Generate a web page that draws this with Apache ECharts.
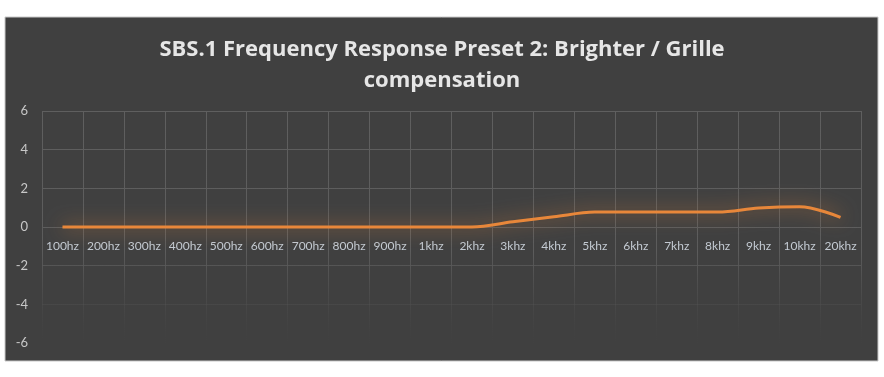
<!DOCTYPE html>
<html>
<head>
<meta charset="utf-8">
<script src="https://cdn.jsdelivr.net/npm/echarts@6/dist/echarts.min.js"></script>
<style>
  html, body { margin: 0; padding: 0; background: #fff; }
  #chart { width: 884px; height: 377px; }
</style>
</head>
<body>
<div id="chart"></div>
<script>
const categories = ['100hz', '200hz', '300hz', '400hz', '500hz', '600hz', '700hz', '800hz', '900hz', '1khz',
  '2khz', '3khz', '4khz', '5khz', '6khz', '7khz', '8khz', '9khz', '10khz', '20khz']
const gainValues = [0, 0, 0, 0, 0, 0, 0, 0, 0, 0,
  0, 0.27, 0.53, 0.77, 0.78, 0.78, 0.78, 0.98, 1.05, 0.5]
const yTicks = { min: -6, max: 6, interval: 2 }

var myChart = echarts.init(document.getElementById('chart'))

// 网格线往下渐隐
var gridFade = new echarts.graphic.LinearGradient(0, 110, 0, 345, [
  { offset: 0, color: 'rgba(95,95,95,1)' },
  { offset: 0.6, color: 'rgba(92,92,92,1)' },
  { offset: 0.8, color: 'rgba(85,85,85,0.45)' },
  { offset: 1, color: 'rgba(70,70,70,0)' },
], true)

var option = {
  backgroundColor: '#ffffff',
  graphic: [
    {
      type: 'rect',
      shape: { x: 5, y: 17, width: 873, height: 344 },
      style: { fill: '#404040', stroke: '#c8c8c8', lineWidth: 1 },
      z: -10,
    },
  ],
  title: {
    text: 'SBS.1 Frequency Response Preset 2: Brighter / Grille\ncompensation',
    left: 'center',
    top: 29,
    textStyle: {
      color: '#e6e6e6',
      fontFamily: 'Open Sans',
      fontWeight: 'bold',
      fontSize: 22,
      lineHeight: 31,
    },
  },
  grid: {
    left: 42,
    right: 23,
    top: 111,
    bottom: 34,
  },
  xAxis: {
    type: 'category',
    data: categories,
    boundaryGap: true,
    offset: -116, // 标签放在0线下面
    axisLine: {
      show: false,
      onZero: false,
    },
    axisTick: { show: false },
    axisLabel: {
      interval: 0,
      margin: 13,
      color: '#c3cad2',
      fontFamily: 'Lato',
      fontSize: 12,
    },
    splitLine: {
      show: true,
      interval: 0,
      lineStyle: { color: gridFade, width: 1 },
    },
  },
  yAxis: {
    type: 'value',
    min: yTicks.min,
    max: yTicks.max,
    interval: yTicks.interval,
    axisLine: { show: false },
    axisTick: { show: false },
    axisLabel: {
      margin: 14,
      color: '#c8c8c8',
      fontFamily: 'Lato',
      fontSize: 13,
    },
    splitLine: {
      lineStyle: { color: gridFade, width: 1 },
    },
  },
  series: [
    {
      type: 'line',
      data: gainValues,
      smooth: 0.35,
      symbol: 'none',
      lineStyle: {
        color: '#e8873a',
        width: 3,
        shadowColor: 'rgba(232,135,58,0.8)',
        shadowBlur: 18,
      },
    },
  ],
}

option && myChart.setOption(option)
</script>
</body>
</html>
